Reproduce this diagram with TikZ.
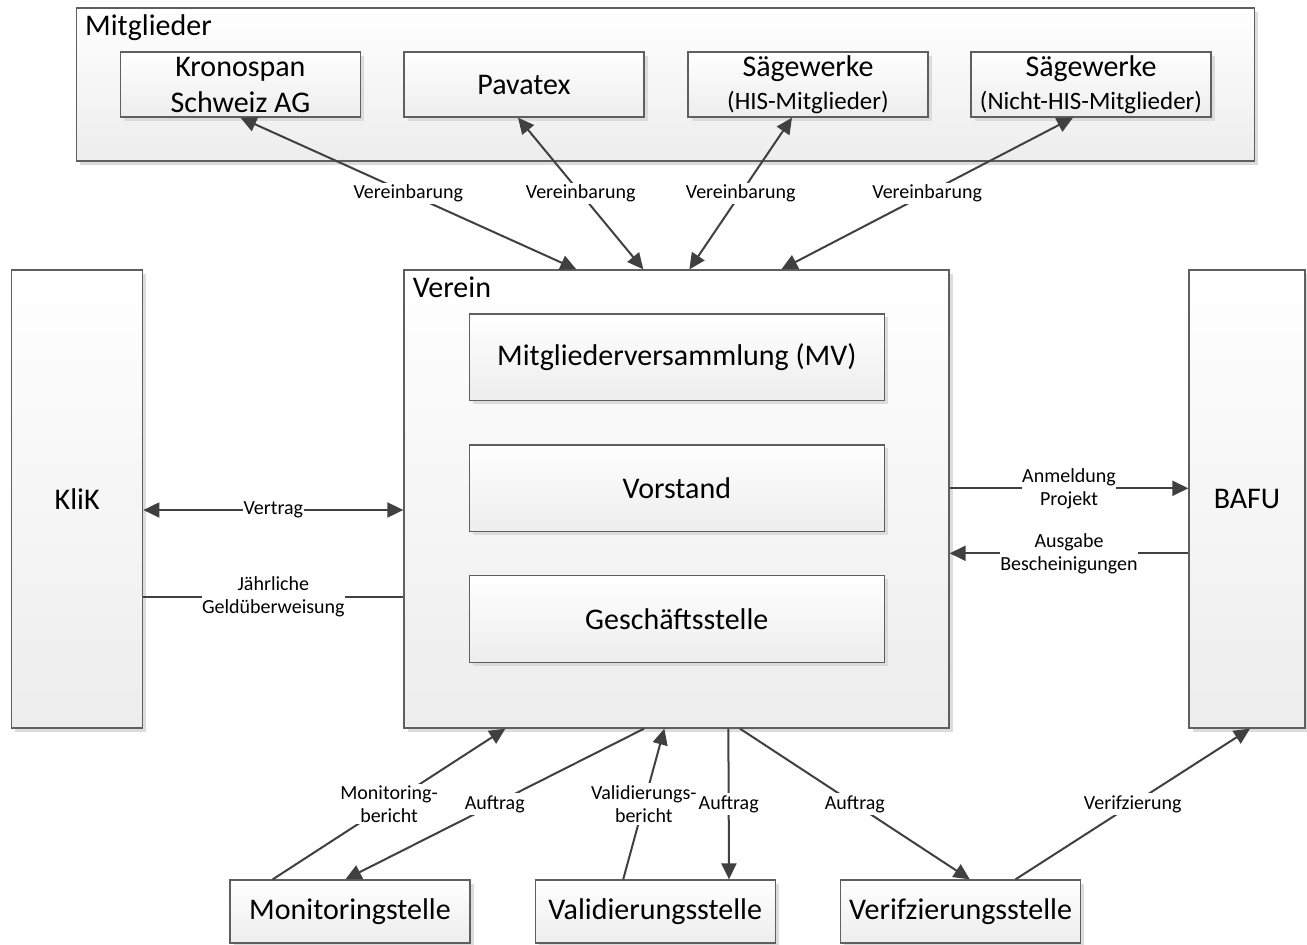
\documentclass[tikz,border=0pt]{standalone}
\usepackage{fontspec}
\setmainfont{Carlito}
\usetikzlibrary{arrows.meta,shadows}
\definecolor{boxborder}{HTML}{5F5F5F}
\definecolor{gradbot}{HTML}{EDEDED}
\definecolor{shadowcol}{HTML}{DCDCDC}
\definecolor{linecol}{HTML}{404040}
\newcommand{\bigtxt}{\fontsize{30}{36}\selectfont}
\newcommand{\midtxt}{\fontsize{25}{30}\selectfont}
\newcommand{\lbltxt}{\fontsize{20}{23}\selectfont}
\tikzset{
  box/.style={draw=boxborder, line width=1.3pt, top color=white, bottom color=gradbot,
    drop shadow={shadow xshift=3.5pt, shadow yshift=-3.5pt, fill=shadowcol, opacity=1},
    inner sep=0pt, align=center, font=\bigtxt},
  conn/.style={draw=linecol, line width=2pt},
  arr/.style={conn, -{Triangle[length=16pt,width=15pt]}},
  arrboth/.style={conn, {Triangle[length=16pt,width=15pt]}-{Triangle[length=16pt,width=15pt]}},
  lbl/.style={fill=white, inner sep=2pt, align=center, font=\lbltxt, text=black},
  lbltight/.style={fill=white, inner xsep=0.5pt, inner ysep=2pt, align=center, font=\lbltxt, text=black},
  title/.style={anchor=base west, inner sep=0pt, font=\bigtxt}
}
\begin{document}
\begin{tikzpicture}[x=1pt,y=-1pt]
\useasboundingbox (0,0) rectangle (1307,945);
% Mitglieder group
\node[box, minimum width=1178pt, minimum height=153pt] (mitglieder) at (665.5,84.5) {};
\node[title] (mitgliedertitle) at (85,35) {Mitglieder};
\node[box, minimum width=240pt, minimum height=65pt] (kronospan) at (240.4,84.5) {Kronospan\\Schweiz AG};
\node[box, minimum width=240pt, minimum height=65pt] (pavatex) at (524,84.5) {Pavatex};
\node[box, minimum width=240pt, minimum height=65pt] (his) at (808,84.5) {Sägewerke\\[-3pt]{\midtxt (HIS-Mitglieder)}};
\node[box, minimum width=240pt, minimum height=65pt] (nhis) at (1091,84.5) {Sägewerke\\[-3pt]{\midtxt (Nicht-HIS-Mitglieder)}};
% side boxes
\node[box, minimum width=131pt, minimum height=458pt] (klik) at (77.2,499) {KliK};
\node[box, minimum width=116pt, minimum height=458pt] (bafu) at (1247,499) {BAFU};
% Verein
\node[box, minimum width=545pt, minimum height=458pt] (verein) at (676.5,499) {};
\node[title] (vereintitle) at (412.7,297.7) {Verein};
\node[box, minimum width=415pt, minimum height=86.7pt] (mv) at (676.8,357.3) {Mitgliederversammlung (MV)};
\node[box, minimum width=415pt, minimum height=86.7pt] (vorstand) at (676.8,488.3) {Vorstand};
\node[box, minimum width=415pt, minimum height=86.7pt] (gs) at (676.8,619) {Geschäftsstelle};
% bottom boxes
\node[box, minimum width=240pt, minimum height=63pt] (mon) at (350,911.5) {Monitoringstelle};
\node[box, minimum width=240pt, minimum height=63pt] (val) at (655.2,911.5) {Validierungsstelle};
\node[box, minimum width=240pt, minimum height=63pt] (ver) at (960.5,911.5) {Verifzierungsstelle};
% top connectors
\draw[arrboth] (kronospan.south) -- node[lbl]{Vereinbarung} ([xshift=173pt]verein.north west);
\draw[arrboth] ([xshift=-6pt]pavatex.south) -- node[lbl]{Vereinbarung} ([xshift=240pt]verein.north west);
\draw[arrboth] ([xshift=-16pt]his.south) -- node[lbl]{Vereinbarung} ([xshift=286pt]verein.north west);
\draw[arrboth] ([xshift=-18pt]nhis.south) -- node[lbl]{Vereinbarung} ([xshift=378pt]verein.north west);
% left connectors
\draw[arrboth] ([yshift=-11pt]klik.east) -- node[lbltight]{Vertrag} ([yshift=-11pt]verein.west);
\draw[conn] ([yshift=-98pt]klik.east) -- node[lbl, inner xsep=0pt]{Jährliche\\Geldüberweisung} ([yshift=-98pt]verein.west);
% right connectors
\draw[arr] ([yshift=10.7pt]verein.east) -- node[lbl, inner xsep=0pt]{Anmeldung\\Projekt} ([yshift=10.7pt]bafu.west);
\draw[arr] ([yshift=-54.3pt]bafu.west) -- node[lbl, inner xsep=0pt]{Ausgabe\\Bescheinigungen} ([yshift=-54.3pt]verein.east);
% bottom connectors
\draw[arr] ([xshift=-77.3pt]mon.north) -- node[lbl]{Monitoring-\\bericht} ([xshift=102pt]verein.south west);
\draw[arr] ([xshift=240.7pt]verein.south west) -- node[lbl]{Auftrag} ([xshift=-4.6pt]mon.north);
\draw[arr] ([xshift=-32pt]val.north) -- node[lbl]{Validierungs-\\bericht} ([xshift=261pt]verein.south west);
\draw[arr] ([xshift=325pt]verein.south west) -- node[lbl, inner xsep=0pt]{Auftrag} ([xshift=73.8pt]val.north);
\draw[arr] ([xshift=336.6pt]verein.south west) -- node[lbl]{Auftrag} ([xshift=9.3pt]ver.north);
\draw[arr] ([xshift=55pt]ver.north) -- node[lbl]{Verifzierung} ([xshift=3pt]bafu.south);
\end{tikzpicture}
\end{document}
